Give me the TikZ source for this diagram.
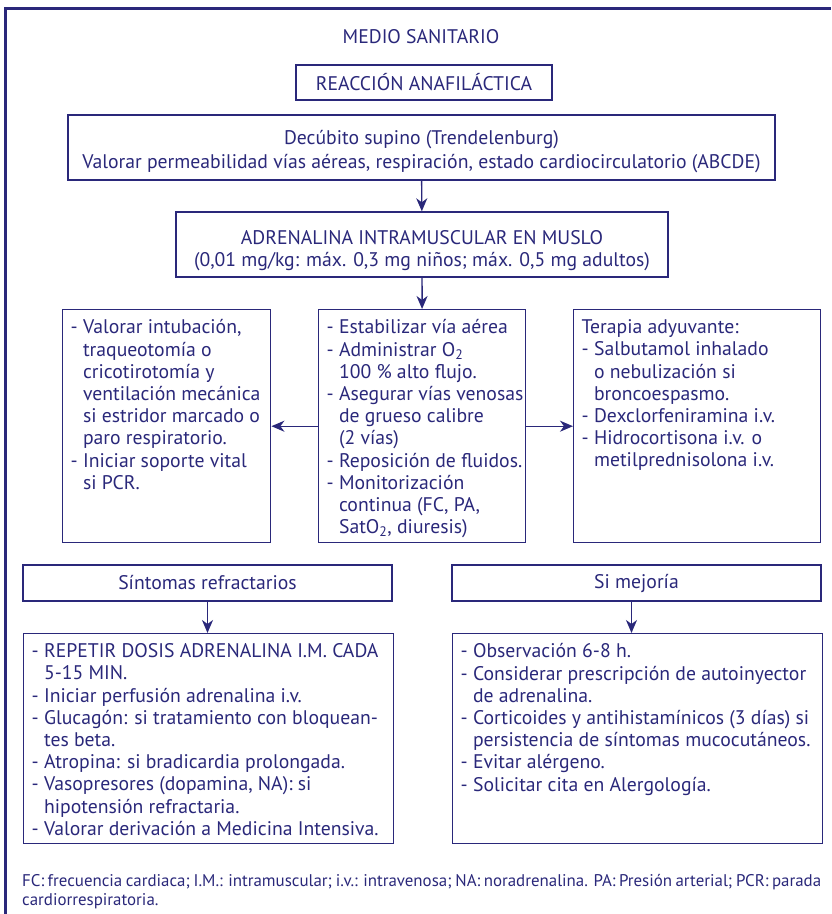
\documentclass[tikz,border=0pt]{standalone}
\usepackage{fontspec}
\setmainfont{PT Sans}
\usetikzlibrary{arrows.meta}

\definecolor{azul}{RGB}{42,40,122}

\tikzstyle{line} = [draw, line width=1.4pt, -{Stealth[length=13pt,width=11pt,inset=4pt]}]
\tikzstyle{block} = [rectangle, draw, line width=1.4pt, align=center,
  inner sep=0pt, font=\fontsize{19.7}{24}\selectfont]
\tikzstyle{list} = [rectangle, draw, line width=1.4pt, anchor=north west,
  inner xsep=8pt, inner ysep=10pt, font=\fontsize{19.7}{22.2}\selectfont]

% each item of a list: a dash, and the following lines hang under its text
% (lines are broken with \newline, so the paragraph and its indent go on)
\newlength\guionw
\newcommand\guion{\par\settowidth\guionw{- }\hangindent=\guionw\hangafter=1 - }

\begin{document}
\begin{tikzpicture}[x=1pt, y=-1pt, color=azul]
  \useasboundingbox (0,0) rectangle (831,914);
  \draw [line width=3pt] (5,914) -- (5,8) -- (831,8);

  \node [font=\fontsize{19.7}{24}\selectfont] (medio) at (421,37) {MEDIO SANITARIO};
  \node [block, minimum width=256pt, minimum height=35pt] (reaccion) at (424,82.5) {REACCIÓN ANAFILÁCTICA};
  \node [block, minimum width=707pt, minimum height=65pt] (decubito) at (421.5,147.5)
    {\rule{0pt}{23pt}Decúbito supino (Trendelenburg)\\Valorar permeabilidad vías aéreas, respiración, estado cardiocirculatorio (ABCDE)};
  \node [block, minimum width=492pt, minimum height=65pt, font=\fontsize{19.7}{22}\selectfont] (adrenalina) at (422,244.5)
    {\rule{0pt}{26pt}ADRENALINA INTRAMUSCULAR EN MUSLO\\(0,01 mg/kg: máx. 0,3 mg niños; máx. 0,5 mg adultos)};

  \node [list] (valorar) at (62,309) {\parbox[t][213pt][t]{192pt}{\raggedright
    \guion Valorar intubación,\newline traqueotomía o\newline cricotirotomía y\newline ventilación mecánica\newline si estridor marcado o\newline paro respiratorio.
    \guion Iniciar soporte vital\newline si PCR.}};
  \node [list] (medidas) at (318,309) {\makebox[191pt][l]{\parbox[t][213pt][t]{210pt}{\raggedright
    \guion Estabilizar vía aérea
    \guion Administrar O\textsubscript{2}\newline 100 \% alto flujo.
    \guion Asegurar vías venosas\newline de grueso calibre\newline (2 vías)
    \guion Reposición de fluidos.
    \guion Monitorización\newline continua (FC, PA,\newline SatO\textsubscript{2}, diuresis)}}};
  \node [list] (terapia) at (573,309) {\parbox[t][213pt][t]{231pt}{\raggedright
    Terapia adyuvante:
    \guion Salbutamol inhalado\newline o nebulización si\newline broncoespasmo.
    \guion Dexclorfeniramina i.v.
    \guion Hidrocortisona i.v. o\newline metilprednisolona i.v.}};

  \node [block, minimum width=369pt, minimum height=36pt] (sintomas) at (207.5,583) {Síntomas refractarios};
  \node [block, minimum width=369pt, minimum height=36pt] (mejora) at (636.5,583) {Si mejoría};

  \node [list] (refractario) at (23,633) {\parbox[t][190pt][t]{354pt}{\raggedright
    \guion REPETIR DOSIS ADRENALINA I.M. CADA\newline 5-15 MIN.
    \guion Iniciar perfusión adrenalina i.v.
    \guion Glucagón: si tratamiento con bloquean-\newline tes beta.
    \guion Atropina: si bradicardia prolongada.
    \guion Vasopresores (dopamina, NA): si\newline hipotensión refractaria.
    \guion Valorar derivación a Medicina Intensiva.}};
  \node [list] (mejoria) at (452,633) {\parbox[t][190pt][t]{354pt}{\raggedright
    \guion Observación 6-8 h.
    \guion Considerar prescripción de autoinyector\newline de adrenalina.
    \guion Corticoides y antihistamínicos (3 días) si\newline persistencia de síntomas mucocutáneos.
    \guion Evitar alérgeno.
    \guion Solicitar cita en Alergología.}};

  \node [anchor=north west, text width=799pt, align=justify, inner sep=0pt,
    font=\fontsize{16.9}{19.5}\selectfont] (nota) at (22,874)
    {FC: frecuencia cardiaca; I.M.: intramuscular; i.v.: intravenosa; NA: noradrenalina. PA: Presión arterial; PCR: parada cardiorrespiratoria.};

  \path [line] (decubito) -- (adrenalina);
  \path [line] (adrenalina) -- (medidas);
  \path [line] (medidas) -- (valorar);
  \path [line] (medidas) -- (terapia);
  \path [line] (sintomas.south) -- (sintomas.south |- refractario.north);
  \path [line] ([xshift=-5pt]mejora.south) -- ([xshift=-5pt]mejora.south |- mejoria.north);
\end{tikzpicture}
\end{document}
